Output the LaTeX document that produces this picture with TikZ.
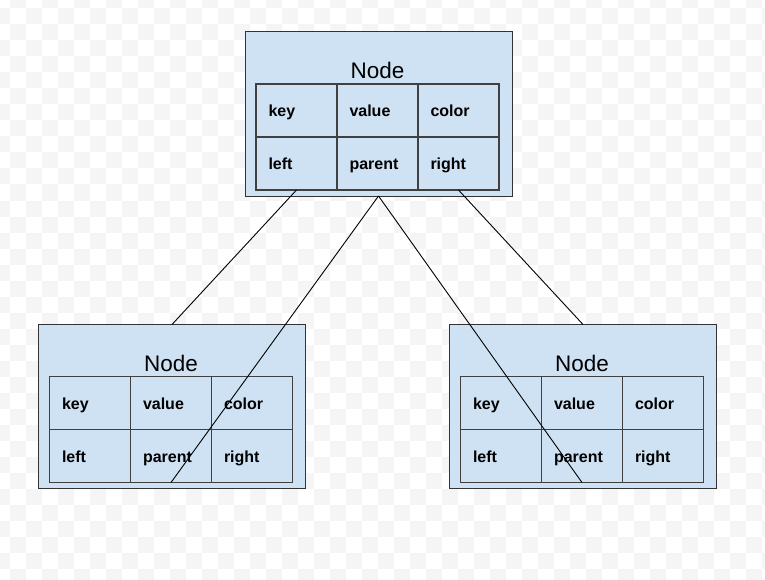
\documentclass[tikz,border=0pt]{standalone}
\usepackage{fontspec}
\setmainfont{Liberation Sans}
\definecolor{NodeBlue}{HTML}{CFE2F3}
\begin{document}
\begin{tikzpicture}
[
x=1pt, y=-1pt,
Checker/.style={fill=black!04},
OuterBox/.style={rectangle, draw=black!80, fill=NodeBlue, line width=1pt, minimum width=267pt, minimum height=164pt, anchor=north west, inner sep=0pt, outer sep=0pt},
Cell/.style={rectangle, draw=black!75, line width=1.5pt, anchor=north west, inner xsep=12.5pt, inner ysep=0pt, outer sep=0pt, text width=56pt, text height=32.5pt, text depth=20.5pt, align=left, font=\fontsize{16}{19}\selectfont\bfseries},
Title/.style={anchor=base, inner sep=0pt, font=\fontsize{22.5}{27}\selectfont},
Link/.style={draw=black, line width=0.9pt},
]

\useasboundingbox (0,0) rectangle (765,580);

% background squares
\begin{scope}
\clip (0,0) rectangle (765,580);
\foreach \j in {0,...,37}
  \foreach \k in {0,...,24}
    \fill[Checker] ({-6+16*(2*\k+1-mod(\j,2))},{-7.5+16*\j}) rectangle +(16,16);
\end{scope}

% root
\node[OuterBox] (root) at (245,32) {};
\node[Title] (root-title) at (377.5,79) {Node};
\node[Cell] (root-key)    at (256,84)  {key};
\node[Cell] (root-value)  at (337,84)  {value};
\node[Cell] (root-color)  at (418,84)  {color};
\node[Cell] (root-left)   at (256,137) {left};
\node[Cell] (root-parent) at (337,137) {parent};
\node[Cell] (root-right)  at (418,137) {right};

% left child
\node[OuterBox] (lchild) at (38.5,324.5) {};
\node[Title] (lchild-title) at (171,371.5) {Node};
\node[Cell] (lchild-key)    at (49.5,376.5)  {key};
\node[Cell] (lchild-value)  at (130.5,376.5) {value};
\node[Cell] (lchild-color)  at (211.5,376.5) {color};
\node[Cell] (lchild-left)   at (49.5,429.5)  {left};
\node[Cell] (lchild-parent) at (130.5,429.5) {parent};
\node[Cell] (lchild-right)  at (211.5,429.5) {right};

% right child
\node[OuterBox] (rchild) at (449.5,324.5) {};
\node[Title] (rchild-title) at (582,371.5) {Node};
\node[Cell] (rchild-key)    at (460.5,376.5) {key};
\node[Cell] (rchild-value)  at (541.5,376.5) {value};
\node[Cell] (rchild-color)  at (622.5,376.5) {color};
\node[Cell] (rchild-left)   at (460.5,429.5) {left};
\node[Cell] (rchild-parent) at (541.5,429.5) {parent};
\node[Cell] (rchild-right)  at (622.5,429.5) {right};

% links
\draw[Link] (root-left.south)  -- (lchild.north);
\draw[Link] (root-right.south) -- (rchild.north);
\draw[Link] (root.south) -- (lchild-parent.south);
\draw[Link] (root.south) -- (rchild-parent.south);

\end{tikzpicture}
\end{document}
